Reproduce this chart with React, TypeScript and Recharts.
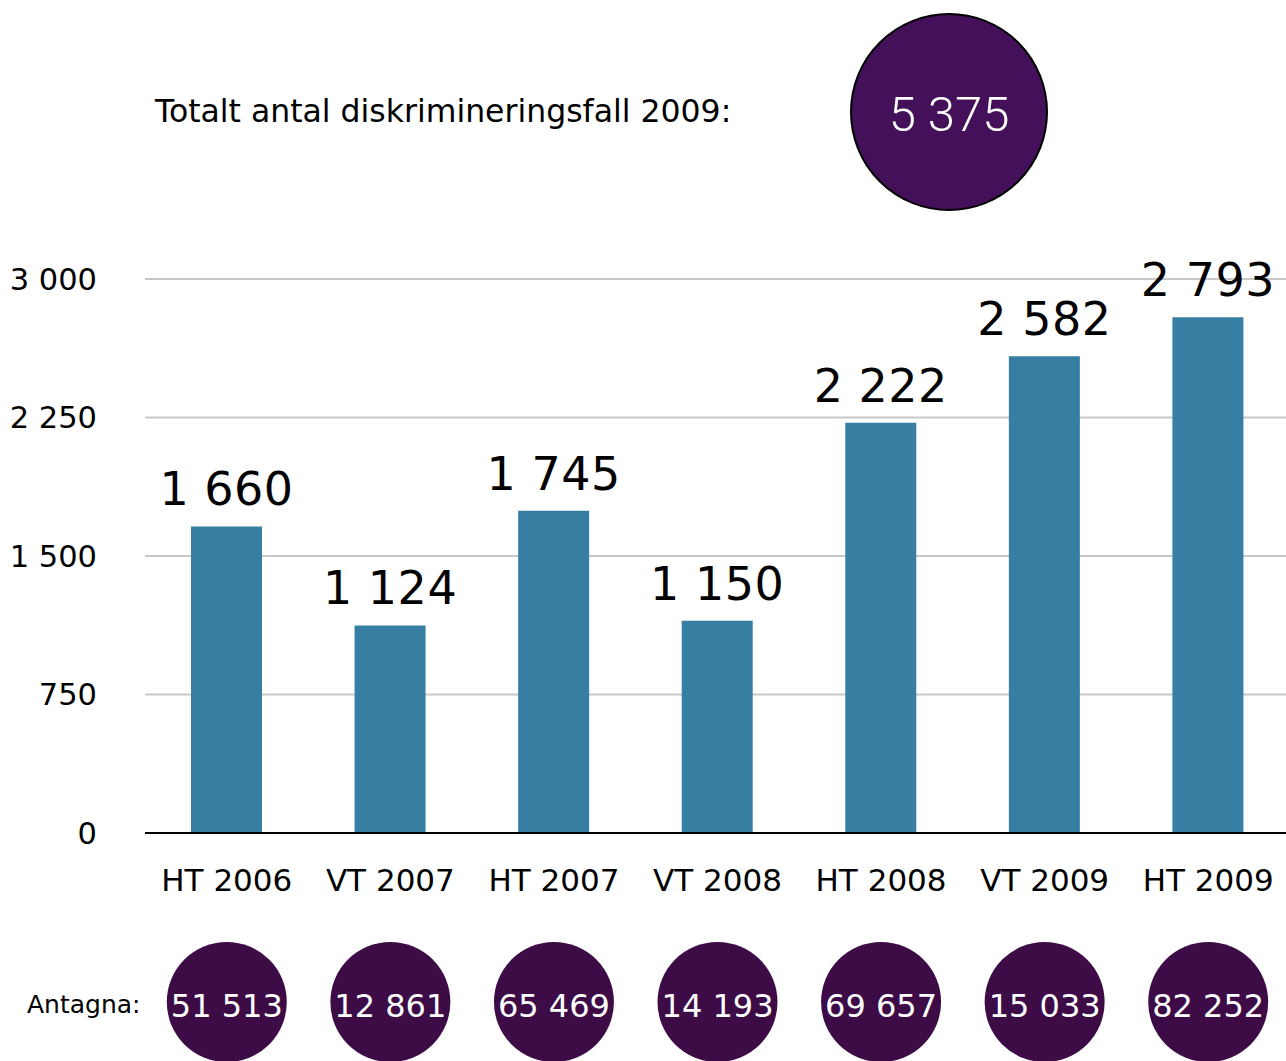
import { Bar, BarChart, CartesianGrid, Customized, LabelList, XAxis, YAxis } from 'recharts'

const terms = ['HT 2006', 'VT 2007', 'HT 2007', 'VT 2008', 'HT 2008', 'VT 2009', 'HT 2009']
const cases = [1660, 1124, 1745, 1150, 2222, 2582, 2793]
const admitted = [51513, 12861, 65469, 14193, 69657, 15033, 82252]
const yTicks = [0, 750, 1500, 2250, 3000]
const totalCases = 5375

const data = terms.map((term, i) => ({ term, cases: cases[i], admitted: admitted[i] }))

const FONT = '"DejaVu Sans", Verdana, sans-serif'
const BAR = '#367fa2'
const PURPLE = '#3d0c46'

// swedish style thousands: "2 793"
const fmt = (v: number) => String(v).replace(/\B(?=(\d{3})+(?!\d))/g, ' ')

function TermTick(props: any) {
	const { x, y, payload, index } = props
	return (
		<g>
			<text x={x} y={y + 58} textAnchor='middle' fontSize={31} fontFamily={FONT} fill='#000'>
				{payload.value}
			</text>
			<circle cx={x} cy={y + 169} r={60} fill={PURPLE} />
			<text x={x} y={y + 184} textAnchor='middle' fontSize={32} fontFamily={FONT} fill='#fff'>
				{fmt(admitted[index])}
			</text>
		</g>
	)
}

function Header() {
	return (
		<g>
			<text x={155} y={122} fontSize={31.5} fontFamily={FONT} fill='#000'>
				Totalt antal diskrimineringsfall 2009:
			</text>
			<circle cx={949} cy={112} r={98} fill='#44105a' stroke='#000' strokeWidth={2} />
			<text
				x={949}
				y={131}
				textAnchor='middle'
				fontSize={49}
				fontWeight={300}
				fontFamily='Roboto, "Liberation Sans", sans-serif'
				fill='#fff'
			>
				{fmt(totalCases)}
			</text>
			<text x={27} y={1013} fontSize={25} fontFamily={FONT} fill='#000'>
				Antagna:
			</text>
		</g>
	)
}

export default function App() {
	return (
		<div style={{ position: 'absolute', left: 0, top: 0, width: 1286, height: 1061, overflow: 'hidden', background: '#fff' }}>
			<BarChart
				width={1290}
				height={1061}
				data={data}
				margin={{ top: 279, right: 0, bottom: 0, left: 0 }}
				barCategoryGap={0}
			>
				<CartesianGrid vertical={false} stroke='#c8c8c8' strokeWidth={2} />
				<XAxis
					dataKey='term'
					height={228}
					tickSize={0}
					tickMargin={0}
					interval={0}
					axisLine={{ stroke: '#000', strokeWidth: 2 }}
					tick={<TermTick />}
				/>
				<YAxis
					width={145}
					domain={[0, 3000]}
					ticks={yTicks}
					axisLine={false}
					tickLine={false}
					tickSize={0}
					tickMargin={48}
					tickFormatter={fmt}
					tick={{ fontSize: 30.5, fontFamily: FONT, fill: '#000' }}
				/>
				<Bar dataKey='cases' fill={BAR} barSize={71} isAnimationActive={false}>
					<LabelList
						dataKey='cases'
						position='top'
						offset={21}
						formatter={(v: any) => fmt(v)}
						style={{ fontSize: 46, fontFamily: FONT, fill: '#000', letterSpacing: 0.5 }}
					/>
				</Bar>
				<Customized component={Header} />
			</BarChart>
		</div>
	)
}
